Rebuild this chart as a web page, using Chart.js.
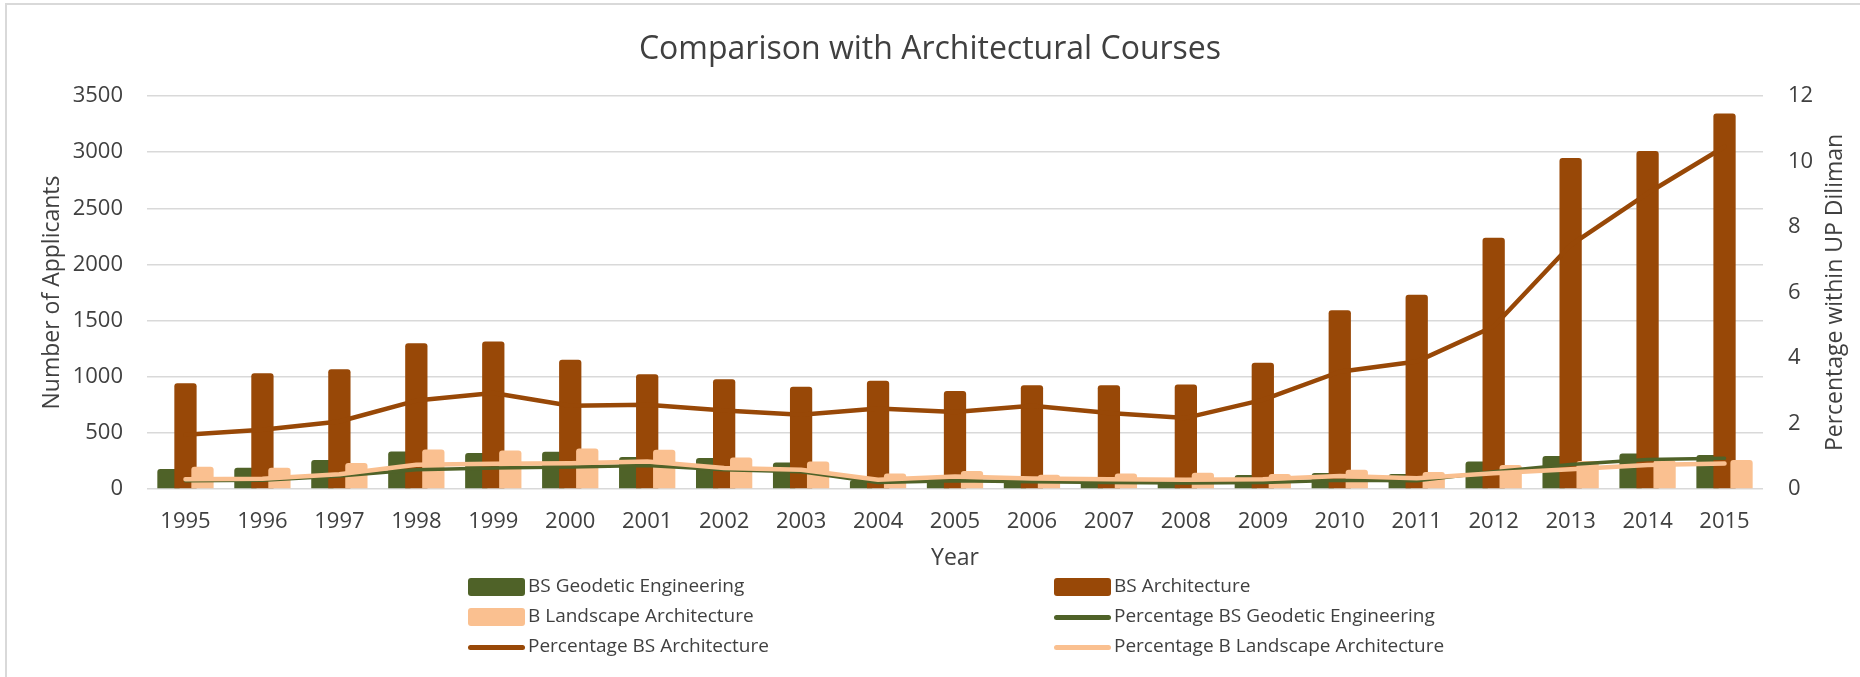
<!DOCTYPE html>
<html>
<head>
<meta charset="utf-8">
<script src="https://cdn.jsdelivr.net/npm/chart.js@4"></script>
<style>
  html, body { margin: 0; padding: 0; background: #fff; overflow: hidden; }
  #wrap { position: relative; width: 1860px; height: 677px; }
  #frame { position: absolute; left: 5px; top: 3px; width: 1900px; height: 720px; border: 2px solid #d9d9d9; box-sizing: border-box; pointer-events: none; }
  canvas { position: absolute; left: 0; top: 0; }
  .lg { position: absolute; font-family: "Open Sans", sans-serif; font-size: 19px; color: #404040; white-space: nowrap; line-height: 1; }
  .sw { position: absolute; border-radius: 3px; }
</style>
</head>
<body>
<div id="wrap">
  <canvas id="c" width="1860" height="677"></canvas>
  <div id="legend"></div>
  <div id="frame"></div>
</div>
<script>
const years = ['1995','1996','1997','1998','1999','2000','2001','2002','2003','2004','2005','2006','2007','2008','2009','2010','2011','2012','2013','2014','2015'];
const geodetic = [178,189,258,334,320,331,284,275,236,80,90,75,75,70,124,142,133,246,293,317,302];
const architecture = [941,1030,1066,1297,1314,1151,1021,977,911,965,873,924,925,930,1125,1592,1731,2238,2948,3010,3345];
const landscape = [198,189,231,352,343,361,349,281,245,139,160,127,139,145,133,171,151,213,249,255,258];
const pctGeodetic = [0.25,0.27,0.40,0.59,0.64,0.67,0.72,0.59,0.53,0.20,0.25,0.22,0.20,0.18,0.20,0.27,0.25,0.53,0.75,0.90,0.94];
const pctArchitecture = [1.66,1.81,2.06,2.70,2.93,2.54,2.57,2.40,2.27,2.46,2.35,2.54,2.32,2.17,2.72,3.58,3.89,4.96,7.45,9.03,10.45];
const pctLandscape = [0.30,0.31,0.45,0.74,0.77,0.79,0.84,0.64,0.59,0.28,0.38,0.32,0.30,0.28,0.30,0.40,0.33,0.48,0.60,0.73,0.78];
const leftTicks = [0,500,1000,1500,2000,2500,3000,3500];
const rightTicks = [0,2,4,6,8,10,12];

const GREEN = '#4F6228', BROWN = '#984807', PEACH = '#FAC090';
const TXT = '#404040';
const FONT = '"Open Sans", sans-serif';

const barOrder = {
  id: 'barOrder',
  beforeDatasetsDraw(chart) {
    chart.data.datasets.forEach((ds, i) => {
      const m = chart.getDatasetMeta(i);
      if (m.type === 'bar' && chart.isDatasetVisible(i)) m.controller.draw();
    });
  },
  beforeDatasetDraw(chart, args) {
    if (args.meta.type === 'bar') return false;
  }
};

const rightTitle = {
  id: 'rightTitle',
  afterDraw(chart) {
    const {ctx, chartArea} = chart;
    ctx.save();
    ctx.translate(1835, (chartArea.top + chartArea.bottom) / 2);
    ctx.rotate(-Math.PI / 2);
    ctx.font = '23px ' + FONT;
    ctx.fillStyle = TXT;
    ctx.textAlign = 'center';
    ctx.textBaseline = 'middle';
    ctx.fillText('Percentage within UP Diliman', 0, 0);
    ctx.restore();
  }
};

const barCommon = { type: 'bar', yAxisID: 'y', categoryPercentage: 0.663, barPercentage: 1.31, borderRadius: 3, borderSkipped: 'start', order: 3 };
const lineCommon = { type: 'line', yAxisID: 'y1', pointRadius: 0, pointHoverRadius: 0, tension: 0, fill: false, borderCapStyle: 'round', borderJoinStyle: 'round' };
const plain = v => String(v);

new Chart(document.getElementById('c'), {
  data: {
    labels: years,
    datasets: [
      Object.assign({}, barCommon, { label: 'BS Geodetic Engineering', data: geodetic, backgroundColor: GREEN }),
      Object.assign({}, barCommon, { label: 'BS Architecture', data: architecture, backgroundColor: BROWN }),
      Object.assign({}, barCommon, { label: 'B Landscape Architecture', data: landscape, backgroundColor: PEACH }),
      Object.assign({}, lineCommon, { label: 'Percentage BS Geodetic Engineering', data: pctGeodetic, borderColor: GREEN, borderWidth: 3.5, order: 1 }),
      Object.assign({}, lineCommon, { label: 'Percentage BS Architecture', data: pctArchitecture, borderColor: BROWN, borderWidth: 4.5, order: 2 }),
      Object.assign({}, lineCommon, { label: 'Percentage B Landscape Architecture', data: pctLandscape, borderColor: PEACH, borderWidth: 4.5, order: 0 })
    ]
  },
  options: {
    responsive: false,
    devicePixelRatio: 1,
    animation: false,
    events: [],
    layout: { padding: { left: 0, right: 0, top: 0, bottom: 105 } },
    plugins: {
      legend: { display: false },
      tooltip: { enabled: false },
      title: {
        display: true,
        text: 'Comparison with Architectural Courses',
        color: TXT,
        font: { family: FONT, size: 32, weight: 'normal', lineHeight: 1.2 },
        padding: { top: 31, bottom: 26.6 }
      }
    },
    scales: {
      x: {
        offset: true,
        afterFit(s) { s.height = 83; },
        grid: { display: false, drawTicks: false },
        border: { display: false },
        ticks: { color: TXT, font: { family: FONT, size: 22 }, padding: 20, maxRotation: 0, autoSkip: false },
        title: { display: true, text: 'Year', color: TXT, font: { family: FONT, size: 23 }, padding: { top: 0, bottom: 0 } }
      },
      y: {
        position: 'left',
        min: 0, max: 3500,
        afterFit(s) { s.width = 147; },
        afterBuildTicks(s) { s.ticks = leftTicks.map(v => ({ value: v })); },
        grid: { color: '#d9d9d9', lineWidth: 1.5, drawTicks: false },
        border: { display: false },
        ticks: { color: TXT, font: { family: FONT, size: 22 }, padding: 24, callback: plain },
        title: { display: true, text: 'Number of Applicants', color: TXT, font: { family: FONT, size: 23 }, padding: { top: 39, bottom: 0 } }
      },
      y1: {
        position: 'right',
        min: 0, max: 12,
        afterFit(s) { s.width = 97; },
        afterBuildTicks(s) { s.ticks = rightTicks.map(v => ({ value: v })); },
        grid: { display: false, drawTicks: false },
        border: { display: false },
        ticks: { color: TXT, font: { family: FONT, size: 22 }, padding: 25, callback: plain }
      }
    }
  },
  plugins: [barOrder, rightTitle]
});

// HTML legend
const legendItems = [
  { text: 'BS Geodetic Engineering', color: GREEN, kind: 'box', col: 0, row: 0 },
  { text: 'BS Architecture', color: BROWN, kind: 'box', col: 1, row: 0 },
  { text: 'B Landscape Architecture', color: PEACH, kind: 'box', col: 0, row: 1 },
  { text: 'Percentage BS Geodetic Engineering', color: GREEN, kind: 'line', col: 1, row: 1 },
  { text: 'Percentage BS Architecture', color: BROWN, kind: 'line', col: 0, row: 2 },
  { text: 'Percentage B Landscape Architecture', color: PEACH, kind: 'line', col: 1, row: 2 }
];
const colX = [468, 1054];
const rowY = [587, 617, 647];
const lg = document.getElementById('legend');
legendItems.forEach(it => {
  const sw = document.createElement('div');
  sw.className = 'sw';
  const h = it.kind === 'box' ? 18 : 5;
  sw.style.left = colX[it.col] + 'px';
  sw.style.top = (rowY[it.row] - h / 2) + 'px';
  sw.style.width = '57px';
  sw.style.height = h + 'px';
  sw.style.background = it.color;
  lg.appendChild(sw);
  const t = document.createElement('div');
  t.className = 'lg';
  t.textContent = it.text;
  t.style.left = (colX[it.col] + 60) + 'px';
  t.style.top = (rowY[it.row] - 11) + 'px';
  lg.appendChild(t);
});
</script>
</body>
</html>
